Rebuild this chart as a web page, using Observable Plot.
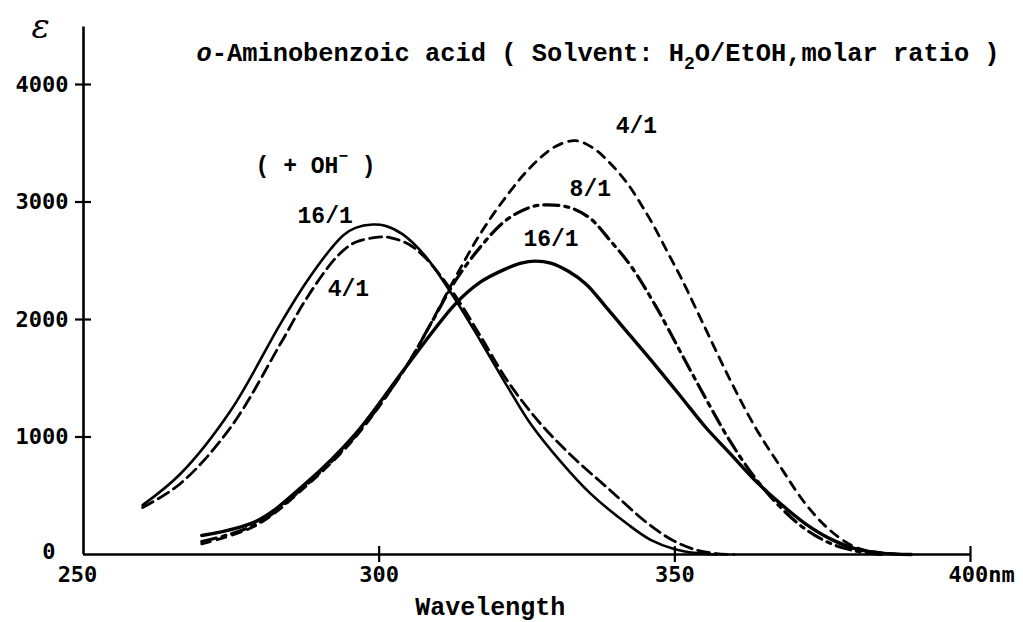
<!DOCTYPE html>
<html><head><meta charset="utf-8">
<script src="https://cdn.jsdelivr.net/npm/d3@7"></script>
<script src="https://cdn.jsdelivr.net/npm/@observablehq/plot@0.6"></script>
<style>
body{margin:0;background:#fff;}
#chart{position:relative;width:1023px;height:622px;}
</style></head><body><div id="chart"></div>
<script>
// ---- data (wavelength nm, molar absorptivity) ----
const ohW16 = [260,266.4,274.9,283.3,287.5,291.8,294.0,296.0,298.9,301.0,304.0,307.8,312.5,317.0,321.8,325.6,330.7,335.7,342.1,345.9,350,354,357];
const ohV16 = [420,687,1226,1963,2304,2600,2720,2780,2808,2798,2725,2540,2200,1830,1420,1112,790,520,255,125,45,10,0];

const ohW4 = [260,266.4,274.9,283.3,287.5,291.8,294.0,296.0,299.8,302.0,305.0,307.8,312.5,317.0,321.8,327.3,332.8,339.1,345.5,349.7,353.5,357,360];
const ohV4 = [400,604,1083,1793,2162,2474,2590,2658,2701,2695,2640,2525,2230,1870,1470,1112,828,545,261,119,40,8,0];

const w16 = [270,279.1,287.5,296.0,304.5,312.9,317.1,321.4,324.0,326.4,329.0,332.0,335.0,338.3,342.5,346.7,351.0,355.2,359.4,363.6,367.9,372.1,376.3,380.6,385,390];
const v16 = [162,280,601,1027,1594,2133,2318,2431,2480,2497,2480,2410,2300,2110,1860,1610,1345,1083,857,630,431,261,133,48,12,0];

const w8 = [270,279.1,287.5,296.0,304.5,308.7,312.9,317.1,321.4,325.6,328.6,332.4,335.7,339.1,342.5,346.7,351.0,355.2,359.4,363.6,367.9,372.1,376.3,380.6,385];
const v8 = [110,255,585,1010,1594,1960,2330,2616,2843,2956,2976,2950,2860,2670,2460,2120,1720,1330,960,650,400,215,95,30,0];

const w4 = [270,279.1,287.5,296.0,304.5,308.7,312.9,317.1,321.4,325.6,329.8,333.2,336.3,339.1,342.0,344.2,346.4,348.8,351.0,355.2,359.4,363.6,367.9,372.1,376.3,380.6,384.8,388];
const v4 = [91,245,575,1000,1594,1963,2360,2729,3041,3296,3472,3522,3455,3328,3157,2987,2800,2570,2360,1920,1481,1083,743,431,204,60,15,0];

const xTicks = [250,300,350,400];
const xTickLabels = ["250","300","350","400nm"];
const yTicks = [1000,2000,3000,4000];
const yZero = [0];

const curveLabels = [
  {text:"( + OH )", w:279.1, v:3311},
  {text:"16/1", w:286.2, v:2885},
  {text:"4/1",  w:291.3, v:2264},
  {text:"4/1",  w:340.0, v:3651},
  {text:"8/1",  w:332.2, v:3115},
  {text:"16/1", w:324.4, v:2689}
];
const titleText = "o-Aminobenzoic acid ( Solvent: H2O/EtOH,molar ratio )";
const titlePos = {w:269.1, v:4272};
const xLabel = "Wavelength";
const xLabelPos = {w:318.8, v:-445};
const yLabel = "ε";

const rows = (ws, vs) => ws.map((w,i)=>({w, v:vs[i]}));
const mono = "'Liberation Mono','Courier New',monospace";
const tickFont = "'DejaVu Sans Mono',monospace";
const tickText = {fontSize:22, fontWeight:"bold", fontFamily:tickFont, fill:"#000"};

const plot = Plot.plot({
  width:1023, height:622,
  marginLeft:83, marginRight:53, marginTop:84, marginBottom:68,
  x:{domain:[250,400], axis:null},
  y:{domain:[0,4000], axis:null},
  style:{background:"#fff", overflow:"visible"},
  marks:[
    Plot.ruleX([250], {y1:0, y2:4490, stroke:"#000", strokeWidth:2.6}),
    Plot.ruleY([0], {x1:250, x2:400, stroke:"#000", strokeWidth:2.6}),
    Plot.ruleX(xTicks.slice(1), {x:d=>d, y1:-68, y2:68, stroke:"#000", strokeWidth:2.2}),
    Plot.ruleY(yTicks, {y:d=>d, x1:248.65, x2:251.35, stroke:"#000", strokeWidth:2.2}),
    Plot.text([xTicks[0]], {x:d=>d, y:0, text:()=>xTickLabels[0], dy:20, dx:-6, ...tickText}),
    Plot.text(xTicks.slice(1,3), {x:d=>d, y:0, text:(d,i)=>xTickLabels[i+1], dy:20, ...tickText}),
    Plot.text([xTicks[3]], {x:d=>d, y:0, text:()=>xTickLabels[3], dy:20, dx:-22, textAnchor:"start", ...tickText}),
    Plot.text(yTicks, {x:250, y:d=>d, text:d=>String(d), textAnchor:"end", dx:-15, ...tickText}),
    Plot.text(yZero, {x:250, y:d=>d, text:d=>String(d), textAnchor:"end", dx:-28, dy:-3, ...tickText}),
    Plot.text([yLabel], {x:250, y:4485, text:d=>d, dx:-43, fontSize:34, fontStyle:"italic", fontFamily:"'DejaVu Serif',serif", fill:"#000"}),
    Plot.text([xLabel], {x:xLabelPos.w, y:xLabelPos.v, text:d=>d, fontSize:25, fontWeight:"bold", fontFamily:mono, fill:"#000"}),
    Plot.text([titleText], {x:titlePos.w, y:titlePos.v, text:d=>d, textAnchor:"start", fontSize:25.4, fontWeight:"bold", fontFamily:mono, fill:"#000", className:"ttl"}),
    Plot.text(curveLabels, {x:"w", y:"v", text:"text", textAnchor:"start", fontSize:23, fontWeight:"bold", fontFamily:mono, fill:"#000", className:"clab"}),
    Plot.line(rows(ohW16, ohV16), {x:"w", y:"v", curve:"catmull-rom", stroke:"#000", strokeWidth:2.6}),
    Plot.line(rows(ohW4, ohV4), {x:"w", y:"v", curve:"catmull-rom", stroke:"#000", strokeWidth:2.8, strokeDasharray:"12,6"}),
    Plot.line(rows(w16, v16), {x:"w", y:"v", curve:"catmull-rom", stroke:"#000", strokeWidth:3.4}),
    Plot.line(rows(w8, v8), {x:"w", y:"v", curve:"catmull-rom", stroke:"#000", strokeWidth:3.2, strokeDasharray:"15,6,4,6"}),
    Plot.line(rows(w4, v4), {x:"w", y:"v", curve:"catmull-rom", stroke:"#000", strokeWidth:2.8, strokeDasharray:"9,7"})
  ]
});
document.getElementById("chart").appendChild(plot);

// subscript / superscript formatting
d3.select(plot).selectAll(".ttl text").each(function(){
  const t = this.textContent;
  const i = t.indexOf("H2O");
  const el = d3.select(this); el.text("");
  el.append("tspan").attr("font-style","italic").text(t.slice(0,1));
  el.append("tspan").text(t.slice(1, i+1));
  el.append("tspan").attr("dy", 8).attr("font-size", 18).text("2");
  el.append("tspan").attr("dy", -8).text(t.slice(i+2));
});
d3.select(plot).selectAll(".clab text").each(function(){
  const t = this.textContent;
  if (!t.includes("OH")) return;
  const i = t.indexOf("OH")+2;
  const el = d3.select(this); el.text("");
  el.append("tspan").text(t.slice(0,i));
  el.append("tspan").attr("dy", -12).attr("font-size", 16).text("\u2212");
  el.append("tspan").attr("dy", 12).text(t.slice(i));
});
</script></body></html>
